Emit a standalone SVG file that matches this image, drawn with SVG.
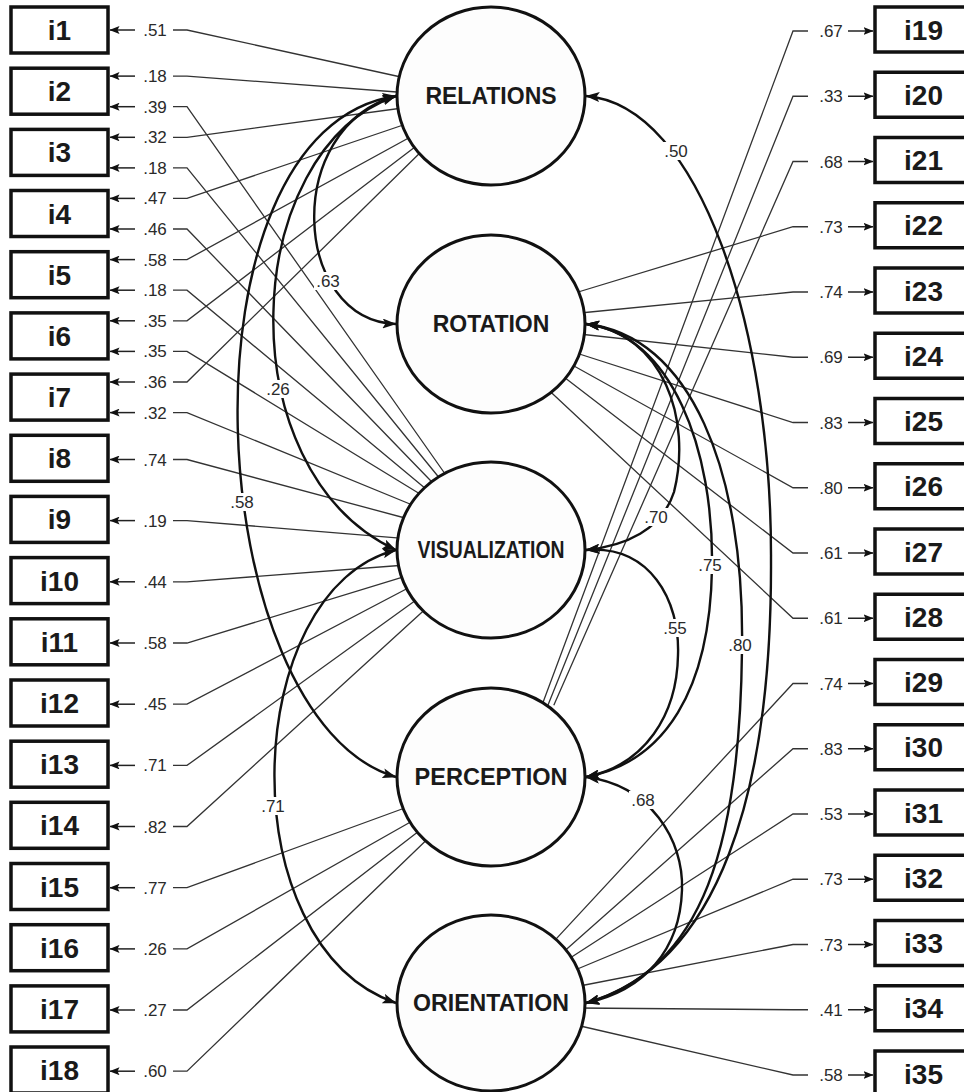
<svg xmlns="http://www.w3.org/2000/svg" width="964" height="1092" viewBox="0 0 964 1092">
<defs>
<marker id="ah" viewBox="0 0 14 10" refX="13.5" refY="5" markerWidth="14" markerHeight="10" markerUnits="userSpaceOnUse" orient="auto-start-reverse"><path d="M0,0 L14,5 L0,10 L3,5 z" fill="#111"/></marker>
<marker id="sa" viewBox="0 0 10 8" refX="9.5" refY="4" markerWidth="10" markerHeight="8" markerUnits="userSpaceOnUse" orient="auto"><path d="M0,0 L10,4 L0,8 L2,4 z" fill="#111"/></marker>
</defs>
<style>
.box{fill:#fff;stroke:#111;stroke-width:3.5}
.bl{font-family:'Liberation Sans',Arial,sans-serif;font-weight:bold;font-size:28px;fill:#1a1a1a;text-anchor:middle}
.lat{fill:#fdfdfd;stroke:#111;stroke-width:3}
.ll{font-family:'Liberation Sans',Arial,sans-serif;font-weight:bold;font-size:23px;fill:#1a1a1a;text-anchor:middle}
.ld{fill:none;stroke:#333;stroke-width:1.3}
.sa{fill:none;stroke:#222;stroke-width:1.5;marker-end:url(#sa)}
.cv{fill:none;stroke:#111;stroke-width:2.4;marker-start:url(#ah);marker-end:url(#ah)}
.n{font-family:'Liberation Sans',Arial,sans-serif;font-size:17px;fill:#2a2a2a;text-anchor:middle}
.bg{fill:#fff}
</style>
<rect width="964" height="1092" fill="#fff"/>

<g id="loadings">
<polyline class="ld" points="173,30 187,30 410,79"/><line class="sa" x1="135" y1="30" x2="110" y2="30"/><text class="n" x="155" y="36">.51</text>
<polyline class="ld" points="173,76.1 187,76.1 410,93"/><line class="sa" x1="135" y1="76.1" x2="110" y2="76.1"/><text class="n" x="155" y="82.1">.18</text>
<polyline class="ld" points="173,106.7 187,106.7 447.6,477.5"/><line class="sa" x1="135" y1="106.7" x2="110" y2="106.7"/><text class="n" x="155" y="112.7">.39</text>
<polyline class="ld" points="173,137.3 187,137.3 410,107"/><line class="sa" x1="135" y1="137.3" x2="110" y2="137.3"/><text class="n" x="155" y="143.3">.32</text>
<polyline class="ld" points="173,167.9 187,167.9 441,480"/><line class="sa" x1="135" y1="167.9" x2="110" y2="167.9"/><text class="n" x="155" y="173.9">.18</text>
<polyline class="ld" points="173,198.4 187,198.4 415,121"/><line class="sa" x1="135" y1="198.4" x2="110" y2="198.4"/><text class="n" x="155" y="204.4">.47</text>
<polyline class="ld" points="173,229 187,229 433.6,483.8"/><line class="sa" x1="135" y1="229" x2="110" y2="229"/><text class="n" x="155" y="235">.46</text>
<polyline class="ld" points="173,259.6 187,259.6 425,129"/><line class="sa" x1="135" y1="259.6" x2="110" y2="259.6"/><text class="n" x="155" y="265.6">.58</text>
<polyline class="ld" points="173,290.2 187,290.2 426,489"/><line class="sa" x1="135" y1="290.2" x2="110" y2="290.2"/><text class="n" x="155" y="296.2">.18</text>
<polyline class="ld" points="173,320.8 187,320.8 432,134"/><line class="sa" x1="135" y1="320.8" x2="110" y2="320.8"/><text class="n" x="155" y="326.8">.35</text>
<polyline class="ld" points="173,351.4 187,351.4 420,494"/><line class="sa" x1="135" y1="351.4" x2="110" y2="351.4"/><text class="n" x="155" y="357.4">.35</text>
<polyline class="ld" points="173,382 187,382 430,143"/><line class="sa" x1="135" y1="382" x2="110" y2="382"/><text class="n" x="155" y="388">.36</text>
<polyline class="ld" points="173,412.6 187,412.6 412.4,505"/><line class="sa" x1="135" y1="412.6" x2="110" y2="412.6"/><text class="n" x="155" y="418.6">.32</text>
<polyline class="ld" points="173,459.5 187,459.5 408.7,519"/><line class="sa" x1="135" y1="459.5" x2="110" y2="459.5"/><text class="n" x="155" y="465.5">.74</text>
<polyline class="ld" points="173,520.6 187,520.6 406,538.6"/><line class="sa" x1="135" y1="520.6" x2="110" y2="520.6"/><text class="n" x="155" y="526.6">.19</text>
<polyline class="ld" points="173,581.8 187,581.8 406,565"/><line class="sa" x1="135" y1="581.8" x2="110" y2="581.8"/><text class="n" x="155" y="587.8">.44</text>
<polyline class="ld" points="173,643 187,643 407.6,575.7"/><line class="sa" x1="135" y1="643" x2="110" y2="643"/><text class="n" x="155" y="649">.58</text>
<polyline class="ld" points="173,704.2 187,704.2 412,586"/><line class="sa" x1="135" y1="704.2" x2="110" y2="704.2"/><text class="n" x="155" y="710.2">.45</text>
<polyline class="ld" points="173,765.4 187,765.4 418.5,598.3"/><line class="sa" x1="135" y1="765.4" x2="110" y2="765.4"/><text class="n" x="155" y="771.4">.71</text>
<polyline class="ld" points="173,826.5 187,826.5 426,608.6"/><line class="sa" x1="135" y1="826.5" x2="110" y2="826.5"/><text class="n" x="155" y="832.5">.82</text>
<polyline class="ld" points="173,887.7 187,887.7 407.5,807"/><line class="sa" x1="135" y1="887.7" x2="110" y2="887.7"/><text class="n" x="155" y="893.7">.77</text>
<polyline class="ld" points="173,948.9 187,948.9 414,820"/><line class="sa" x1="135" y1="948.9" x2="110" y2="948.9"/><text class="n" x="155" y="954.9">.26</text>
<polyline class="ld" points="173,1010 187,1010 419,831"/><line class="sa" x1="135" y1="1010" x2="110" y2="1010"/><text class="n" x="155" y="1016">.27</text>
<polyline class="ld" points="173,1071.2 187,1071.2 427,839.5"/><line class="sa" x1="135" y1="1071.2" x2="110" y2="1071.2"/><text class="n" x="155" y="1077.2">.60</text>
<polyline class="ld" points="808,31 793,31 540,710.5"/><line class="sa" x1="848" y1="31" x2="873" y2="31"/><text class="n" x="831" y="37">.67</text>
<polyline class="ld" points="808,96.25 793,96.25 547,707.4"/><line class="sa" x1="848" y1="96.25" x2="873" y2="96.25"/><text class="n" x="831" y="102.25">.33</text>
<polyline class="ld" points="808,161.5 793,161.5 553.8,705.3"/><line class="sa" x1="848" y1="161.5" x2="873" y2="161.5"/><text class="n" x="831" y="167.5">.68</text>
<polyline class="ld" points="808,226.75 793,226.75 565,296"/><line class="sa" x1="848" y1="226.75" x2="873" y2="226.75"/><text class="n" x="831" y="232.75">.73</text>
<polyline class="ld" points="808,292 793,292 570,314"/><line class="sa" x1="848" y1="292" x2="873" y2="292"/><text class="n" x="831" y="298">.74</text>
<polyline class="ld" points="808,357.25 793,357.25 570,333"/><line class="sa" x1="848" y1="357.25" x2="873" y2="357.25"/><text class="n" x="831" y="363.25">.69</text>
<polyline class="ld" points="808,422.5 793,422.5 570,351"/><line class="sa" x1="848" y1="422.5" x2="873" y2="422.5"/><text class="n" x="831" y="428.5">.83</text>
<polyline class="ld" points="808,487.75 793,487.75 565,361"/><line class="sa" x1="848" y1="487.75" x2="873" y2="487.75"/><text class="n" x="831" y="493.75">.80</text>
<polyline class="ld" points="808,553 793,553 560,374"/><line class="sa" x1="848" y1="553" x2="873" y2="553"/><text class="n" x="831" y="559">.61</text>
<polyline class="ld" points="808,618.25 793,618.25 540,382"/><line class="sa" x1="848" y1="618.25" x2="873" y2="618.25"/><text class="n" x="831" y="624.25">.61</text>
<polyline class="ld" points="808,683.5 793,683.5 550.6,944.9"/><line class="sa" x1="848" y1="683.5" x2="873" y2="683.5"/><text class="n" x="831" y="689.5">.74</text>
<polyline class="ld" points="808,748.75 793,748.75 560,955"/><line class="sa" x1="848" y1="748.75" x2="873" y2="748.75"/><text class="n" x="831" y="754.75">.83</text>
<polyline class="ld" points="808,814 793,814 567,960"/><line class="sa" x1="848" y1="814" x2="873" y2="814"/><text class="n" x="831" y="820">.53</text>
<polyline class="ld" points="808,879.25 793,879.25 572.6,971"/><line class="sa" x1="848" y1="879.25" x2="873" y2="879.25"/><text class="n" x="831" y="885.25">.73</text>
<polyline class="ld" points="808,944.5 793,944.5 577,986.5"/><line class="sa" x1="848" y1="944.5" x2="873" y2="944.5"/><text class="n" x="831" y="950.5">.73</text>
<polyline class="ld" points="808,1009.75 793,1009.75 577,1008"/><line class="sa" x1="848" y1="1009.75" x2="873" y2="1009.75"/><text class="n" x="831" y="1015.75">.41</text>
<polyline class="ld" points="808,1075 793,1075 576,1025"/><line class="sa" x1="848" y1="1075" x2="873" y2="1075"/><text class="n" x="831" y="1081">.58</text>
</g>

<g id="RELATIONS"><ellipse class="lat" cx="491" cy="96" rx="94" ry="89"/><text class="ll" x="491" y="104">RELATIONS</text></g>
<g id="ROTATION"><ellipse class="lat" cx="491" cy="324" rx="94" ry="89"/><text class="ll" x="491" y="332">ROTATION</text></g>
<g id="VISUALIZATION"><ellipse class="lat" cx="491" cy="550" rx="94" ry="88"/><text class="ll" x="491" y="558" textLength="147" lengthAdjust="spacingAndGlyphs">VISUALIZATION</text></g>
<g id="PERCEPTION"><ellipse class="lat" cx="491" cy="777" rx="94" ry="89"/><text class="ll" x="491" y="785" textLength="153" lengthAdjust="spacingAndGlyphs">PERCEPTION</text></g>
<g id="ORIENTATION"><ellipse class="lat" cx="491" cy="1003" rx="94" ry="88"/><text class="ll" x="491" y="1011" textLength="156" lengthAdjust="spacingAndGlyphs">ORIENTATION</text></g>

<g id="correlations">
<path class="cv" d="M396,96 C282,128 292,320 396,324"/>
<path class="cv" d="M396,96 C240,150 225,470 396,550"/>
<path class="cv" d="M396,96 C170,130 200,720 396,777"/>
<path class="cv" d="M396,550 C240,590 228,945 396,1003"/>
<path class="cv" d="M586,96 C700,105 772,330 771,560 C772,790 720,965 586,1003"/>
<path class="cv" d="M586,324 C690,335 745,470 742,650 C740,840 705,970 586,1003"/>
<path class="cv" d="M586,324 C672,334 714,450 712,568 C710,690 665,762 586,777"/>
<path class="cv" d="M586,324 C664,334 692,420 674,492 C662,530 625,546 586,550"/>
<path class="cv" d="M586,550 C650,545 680,600 678,655 C677,715 645,765 586,777"/>
<path class="cv" d="M586,777 C650,785 684,840 682,890 C680,950 645,990 586,1003"/>
<rect class="bg" x="314" y="272" width="28" height="18"/><text class="n" x="328" y="287">.63</text>
<rect class="bg" x="264" y="380" width="28" height="18"/><text class="n" x="278" y="395">.26</text>
<rect class="bg" x="228" y="493" width="28" height="18"/><text class="n" x="242" y="508">.58</text>
<rect class="bg" x="259" y="797" width="28" height="18"/><text class="n" x="273" y="812">.71</text>
<rect class="bg" x="662" y="142" width="28" height="18"/><text class="n" x="676" y="157">.50</text>
<rect class="bg" x="642" y="508" width="28" height="18"/><text class="n" x="656" y="523">.70</text>
<rect class="bg" x="696" y="556" width="28" height="18"/><text class="n" x="710" y="571">.75</text>
<rect class="bg" x="726" y="636" width="28" height="18"/><text class="n" x="740" y="651">.80</text>
<rect class="bg" x="661" y="619" width="28" height="18"/><text class="n" x="675" y="634">.55</text>
<rect class="bg" x="629" y="791" width="28" height="18"/><text class="n" x="643" y="806">.68</text>
</g>

<g id="i1"><rect class="box" x="11" y="7" width="97" height="46"/><text class="bl" x="59.5" y="40">i1</text></g>
<g id="i2"><rect class="box" x="11" y="68.2" width="97" height="46"/><text class="bl" x="59.5" y="101.2">i2</text></g>
<g id="i3"><rect class="box" x="11" y="129.4" width="97" height="46"/><text class="bl" x="59.5" y="162.4">i3</text></g>
<g id="i4"><rect class="box" x="11" y="190.5" width="97" height="46"/><text class="bl" x="59.5" y="223.5">i4</text></g>
<g id="i5"><rect class="box" x="11" y="251.7" width="97" height="46"/><text class="bl" x="59.5" y="284.7">i5</text></g>
<g id="i6"><rect class="box" x="11" y="312.9" width="97" height="46"/><text class="bl" x="59.5" y="345.9">i6</text></g>
<g id="i7"><rect class="box" x="11" y="374.1" width="97" height="46"/><text class="bl" x="59.5" y="407.1">i7</text></g>
<g id="i8"><rect class="box" x="11" y="435.3" width="97" height="46"/><text class="bl" x="59.5" y="468.3">i8</text></g>
<g id="i9"><rect class="box" x="11" y="496.4" width="97" height="46"/><text class="bl" x="59.5" y="529.4">i9</text></g>
<g id="i10"><rect class="box" x="11" y="557.6" width="97" height="46"/><text class="bl" x="59.5" y="590.6">i10</text></g>
<g id="i11"><rect class="box" x="11" y="618.8" width="97" height="46"/><text class="bl" x="59.5" y="651.8">i11</text></g>
<g id="i12"><rect class="box" x="11" y="680" width="97" height="46"/><text class="bl" x="59.5" y="713">i12</text></g>
<g id="i13"><rect class="box" x="11" y="741.2" width="97" height="46"/><text class="bl" x="59.5" y="774.2">i13</text></g>
<g id="i14"><rect class="box" x="11" y="802.3" width="97" height="46"/><text class="bl" x="59.5" y="835.3">i14</text></g>
<g id="i15"><rect class="box" x="11" y="863.5" width="97" height="46"/><text class="bl" x="59.5" y="896.5">i15</text></g>
<g id="i16"><rect class="box" x="11" y="924.7" width="97" height="46"/><text class="bl" x="59.5" y="957.7">i16</text></g>
<g id="i17"><rect class="box" x="11" y="985.9" width="97" height="46"/><text class="bl" x="59.5" y="1018.9">i17</text></g>
<g id="i18"><rect class="box" x="11" y="1047" width="97" height="46"/><text class="bl" x="59.5" y="1080">i18</text></g>

<g id="i19"><rect class="box" x="875" y="7" width="97" height="45"/><text class="bl" x="923.5" y="39.5">i19</text></g>
<g id="i20"><rect class="box" x="875" y="72.25" width="97" height="45"/><text class="bl" x="923.5" y="104.75">i20</text></g>
<g id="i21"><rect class="box" x="875" y="137.5" width="97" height="45"/><text class="bl" x="923.5" y="170">i21</text></g>
<g id="i22"><rect class="box" x="875" y="202.75" width="97" height="45"/><text class="bl" x="923.5" y="235.25">i22</text></g>
<g id="i23"><rect class="box" x="875" y="268" width="97" height="45"/><text class="bl" x="923.5" y="300.5">i23</text></g>
<g id="i24"><rect class="box" x="875" y="333.25" width="97" height="45"/><text class="bl" x="923.5" y="365.75">i24</text></g>
<g id="i25"><rect class="box" x="875" y="398.5" width="97" height="45"/><text class="bl" x="923.5" y="431">i25</text></g>
<g id="i26"><rect class="box" x="875" y="463.75" width="97" height="45"/><text class="bl" x="923.5" y="496.25">i26</text></g>
<g id="i27"><rect class="box" x="875" y="529" width="97" height="45"/><text class="bl" x="923.5" y="561.5">i27</text></g>
<g id="i28"><rect class="box" x="875" y="594.25" width="97" height="45"/><text class="bl" x="923.5" y="626.75">i28</text></g>
<g id="i29"><rect class="box" x="875" y="659.5" width="97" height="45"/><text class="bl" x="923.5" y="692">i29</text></g>
<g id="i30"><rect class="box" x="875" y="724.75" width="97" height="45"/><text class="bl" x="923.5" y="757.25">i30</text></g>
<g id="i31"><rect class="box" x="875" y="790" width="97" height="45"/><text class="bl" x="923.5" y="822.5">i31</text></g>
<g id="i32"><rect class="box" x="875" y="855.25" width="97" height="45"/><text class="bl" x="923.5" y="887.75">i32</text></g>
<g id="i33"><rect class="box" x="875" y="920.5" width="97" height="45"/><text class="bl" x="923.5" y="953">i33</text></g>
<g id="i34"><rect class="box" x="875" y="985.75" width="97" height="45"/><text class="bl" x="923.5" y="1018.25">i34</text></g>
<g id="i35"><rect class="box" x="875" y="1051" width="97" height="45"/><text class="bl" x="923.5" y="1083.5">i35</text></g>
</svg>
